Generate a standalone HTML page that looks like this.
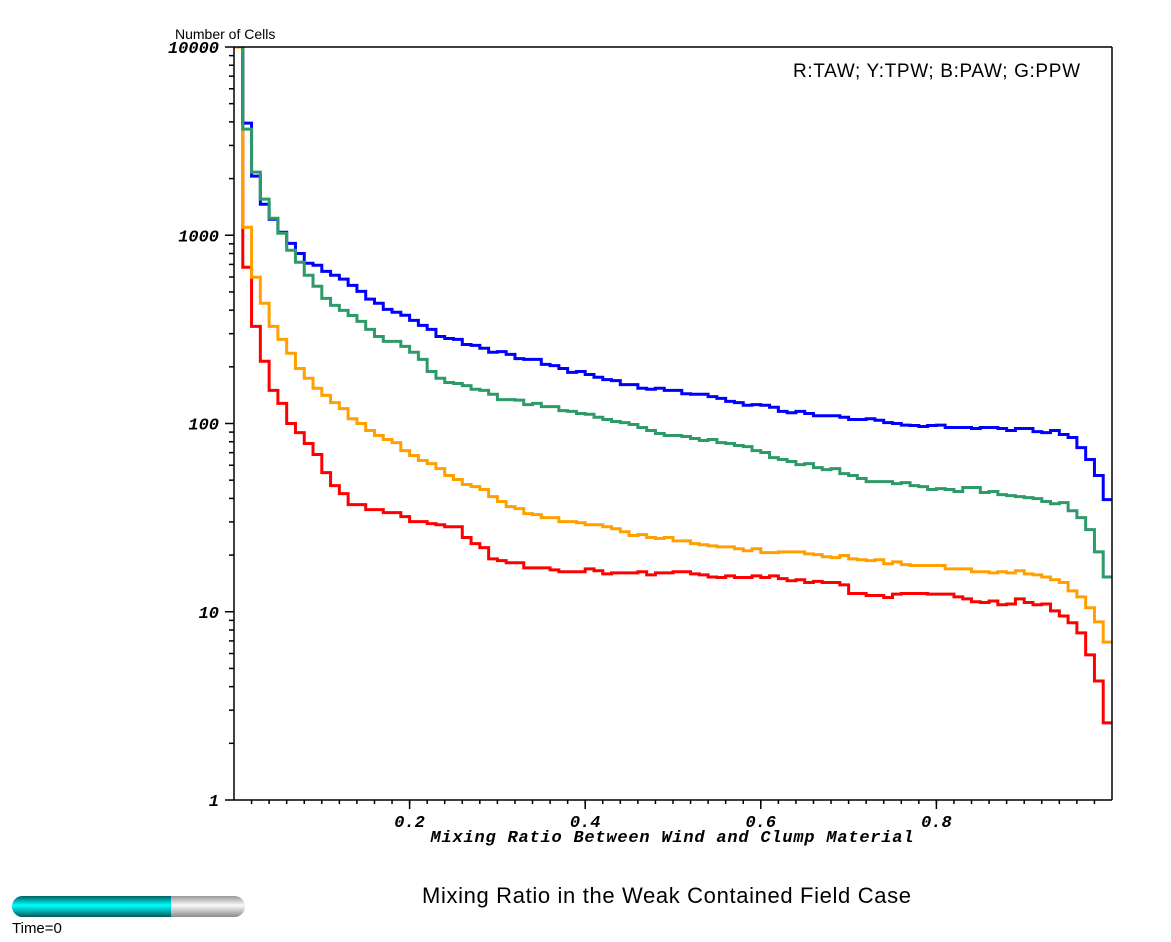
<!DOCTYPE html>
<html><head><meta charset="utf-8"><style>
html,body{margin:0;padding:0;background:#fff;}
svg{display:block;}
.mono{font-family:"Liberation Mono",monospace;font-weight:bold;font-style:italic;}
.sans{font-family:"Liberation Sans",sans-serif;}
</style></head><body>
<svg id="chart" width="1171" height="942" viewBox="0 0 1171 942" xmlns="http://www.w3.org/2000/svg">
<defs>
<linearGradient id="cyanG" x1="0" y1="0" x2="0" y2="1"><stop offset="0" stop-color="#006060"/><stop offset="0.45" stop-color="#00ffff"/><stop offset="1" stop-color="#005858"/></linearGradient>
<linearGradient id="greyG" x1="0" y1="0" x2="0" y2="1"><stop offset="0" stop-color="#999"/><stop offset="0.45" stop-color="#fafafa"/><stop offset="1" stop-color="#8a8a8a"/></linearGradient>
<clipPath id="plotClip"><rect x="234" y="47" width="878" height="753"/></clipPath>
</defs>
<g id="series" clip-path="url(#plotClip)"></g>
<g id="axes"></g>
<text class="sans" x="175" y="39" font-size="14">Number of Cells</text>
<text class="sans" x="793" y="77" font-size="19" textLength="287">R:TAW; Y:TPW; B:PAW; G:PPW</text>
<text class="mono" x="672" y="842" font-size="17" text-anchor="middle" textLength="483">Mixing Ratio Between Wind and Clump Material</text>
<text class="sans" x="422" y="903" font-size="22" textLength="489">Mixing Ratio in the Weak Contained Field Case</text>
<g>
<rect x="12" y="896" width="233" height="21" rx="10.5" fill="url(#greyG)"/>
<path d="M22.5,896 H171 V917 H22.5 A10.5,10.5 0 0 1 22.5,896 Z" fill="url(#cyanG)"/>
</g>
<text class="sans" x="12" y="933" font-size="15">Time=0</text>
</svg>
<script>
const binCount = 100;
const seriesNames = ["TAW","TPW","PAW","PPW"];
const seriesColors = ["#ff0000","#ffa000","#0000ff","#2e9a68"];
const redTAW = [12000,676,328,214,150,128,100,89.5,78.3,68.4,54.8,46.8,42.4,37.1,37.1,34.9,34.9,33.6,33.6,32.0,30.1,30.1,29.4,29.0,28.3,28.3,24.8,23.0,21.9,19.1,18.7,18.2,18.2,17.1,17.1,17.1,16.7,16.3,16.3,16.3,16.9,16.5,15.9,16.1,16.1,16.1,16.3,15.7,16.1,16.1,16.3,16.3,15.9,15.7,15.3,15.2,15.5,15.2,15.2,15.5,15.2,15.5,15.0,14.6,14.8,14.3,14.5,14.3,14.3,13.9,12.5,12.5,12.2,12.2,11.9,12.4,12.5,12.5,12.5,12.4,12.4,12.4,12.0,11.7,11.3,11.2,11.4,10.9,11.0,11.7,11.2,10.9,11.0,10.1,9.5,8.74,7.72,5.9,4.29,2.57];
const yellowTPW = [10000,1103,598,435,328,280,236,196,174,154,141,129,120,106,100,91.8,86.3,82.2,79.2,71.8,67.6,63.6,61.2,57.6,52.9,50.4,47.4,46.2,44.6,40.9,38.5,36.2,35.3,33.2,32.8,31.6,31.6,30.1,30.1,29.7,29.0,29.0,28.3,27.6,26.6,25.4,25.7,24.8,24.5,24.8,23.8,23.8,23.0,22.7,22.4,22.1,22.1,21.6,21.1,21.6,20.6,20.6,20.8,20.8,20.8,20.3,20.1,19.6,19.4,19.9,19.1,18.9,18.7,18.9,18.0,18.4,17.8,17.6,17.6,17.6,17.6,16.9,16.9,16.9,16.3,16.3,16.1,16.3,16.1,16.5,15.9,15.7,15.3,14.8,14.3,12.9,12.0,10.5,8.84,6.9];
const bluePAW = [12000,3940,2060,1460,1217,1037,906,800,710,693,643,613,585,542,503,458,435,404,390,376,353,332,316,290,283,280,263,260,251,239,241,233,221,219,219,206,203,196,187,189,182,176,171,169,161,161,154,152,154,150,150,144,143,143,139,136,131,129,125,126,125,122,116,114,116,113,110,110,110,108,105,105,106,104,101,100,98,97.6,96.4,97.6,98,95.2,95.2,95.2,94,95.2,95.2,94,91.8,94,94,90.6,89.5,91.8,87.4,84.3,74.5,64.4,52.9,39.4];
const greenPPW = [12000,3665,2165,1555,1232,1025,832,719,613,536,462,424,399,375,349,316,290,273,273,257,239,219,189,174,165,163,159,152,150,143,134,134,133,126,128,123,123,117,116,113,112,108,105,102.5,101,98.8,95.2,91.8,88.5,86.3,86.3,85.3,83.2,81.2,82.2,79.2,78.3,76.4,75.4,71.8,70.1,65.9,64.4,62.8,60.5,61.2,58.3,56.9,57.6,54.2,52.9,51.0,49.1,49.1,49.1,47.9,48.5,46.8,46.2,44.6,45.1,44.6,43.5,45.7,45.7,43.0,43.5,41.9,41.4,40.9,40.4,39.9,38.5,37.5,38.0,34.4,31.6,27.3,20.8,15.3];
const yTickValues = [1,10,100,1000,10000];
const yTickLabels = ["1","10","100","1000","10000"];
const xTickValues = [0.2,0.4,0.6,0.8];
const xTickLabels = ["0.2","0.4","0.6","0.8"];

const X0=234, X1=1112, Y0=800, Y1=47;
function xScale(v){ return X0 + v*(X1-X0); }
function yScale(v){ return Y0 - (Math.log10(v)/4)*(Y0-Y1); }
const NS="http://www.w3.org/2000/svg";
const allSeries=[redTAW,yellowTPW,bluePAW,greenPPW];
const seriesG=document.getElementById('series');
allSeries.forEach(function(data,si){
  let d="";
  for(let i=0;i<data.length;i++){
    const xa=xScale(i/binCount), xb=xScale((i+1)/binCount), y=yScale(data[i]);
    d += (i===0? "M"+xa+","+Y1 : "") + "L"+xa+","+y+"L"+xb+","+y;
  }
  const p=document.createElementNS(NS,'path');
  p.setAttribute('d',d);
  p.setAttribute('fill','none');
  p.setAttribute('stroke',seriesColors[si]);
  p.setAttribute('stroke-width','3');
  
  
  seriesG.appendChild(p);
});
const ax=document.getElementById('axes');
function line(x1,y1,x2,y2,name){
  const l=document.createElementNS(NS,'line');
  l.setAttribute('x1',x1);l.setAttribute('y1',y1);l.setAttribute('x2',x2);l.setAttribute('y2',y2);
  l.setAttribute('stroke','#000');l.setAttribute('stroke-width','1.5');
  
  
  ax.appendChild(l);
}
function text(x,y,s,anchor,name){
  const t=document.createElementNS(NS,'text');
  t.setAttribute('x',x);t.setAttribute('y',y);t.setAttribute('text-anchor',anchor);
  t.setAttribute('class','mono');t.setAttribute('font-size','17');
  t.textContent=s;
  
  
  ax.appendChild(t);
}
line(X0,Y1,X1,Y1,'plot-frame-top');
line(X1,Y1,X1,Y0,'plot-frame-right');
line(X0,Y1,X0,Y0,'y-axis-line');
line(X0,Y0,X1,Y0,'x-axis-line');
for(let dcd=0; dcd<4; dcd++){
  for(let m=2;m<=9;m++){
    const y=yScale(m*Math.pow(10,dcd));
    line(X0-5,y,X0,y,'y-minor-tick');
  }
}
yTickValues.forEach(function(v,i){
  const y=yScale(v);
  line(X0-9,y,X0,y,'y-major-tick');
  text(219,y+6,yTickLabels[i],'end','y-tick-label');
});
for(let k=1;k<50;k++){
  const x=xScale(k*0.02);
  line(x,Y0,x,Y0+4,'x-minor-tick');
}
xTickValues.forEach(function(v,i){
  const x=xScale(v);
  line(x,Y0,x,Y0+9,'x-major-tick');
  text(x,827,xTickLabels[i],'middle','x-tick-label');
});
</script>
</body></html>
